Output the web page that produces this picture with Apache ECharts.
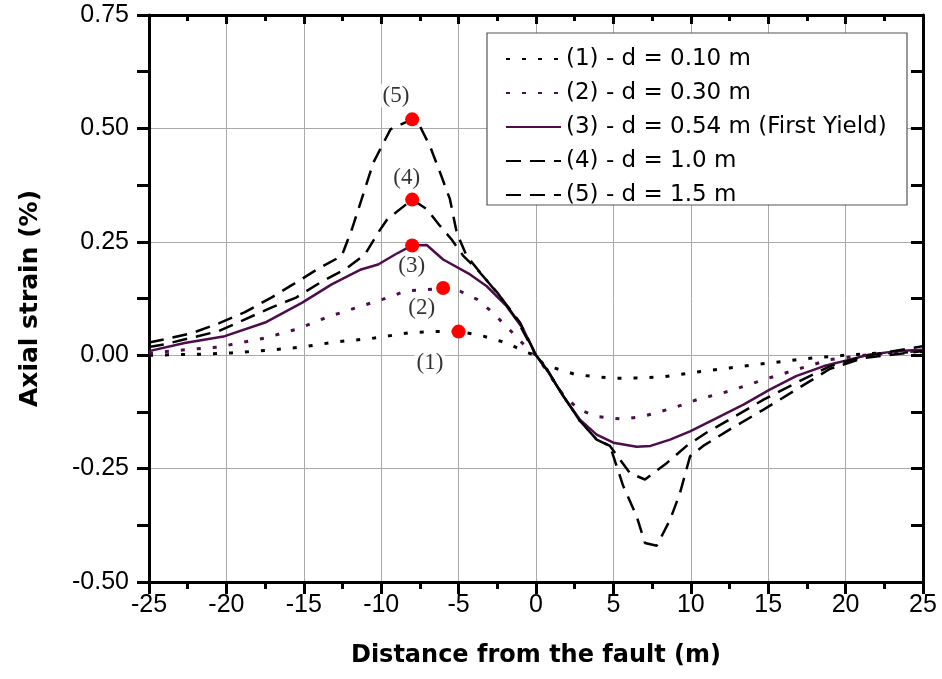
<!DOCTYPE html>
<html>
<head>
<meta charset="utf-8">
<script src="https://cdn.jsdelivr.net/npm/echarts@6/dist/echarts.min.js"></script>
<style>
  html, body { margin: 0; padding: 0; background: #fff; }
  #chart { width: 942px; height: 679px; }
</style>
</head>
<body>
<div id="chart"></div>
<script>
// distance from the fault (m) and axial strain (%) for each case
const x1 = [-25, -21.8, -19.7, -17.3, -15.1, -13, -10.6, -8.1, -6.5, -5, -3.4, -1.9, -0.6, 0, 0.5, 2.6, 5, 6.5, 8.2, 10, 12.5, 15.1, 17.9, 20, 22.2, 25]
const y1 = [0, 0.002, 0.005, 0.011, 0.018, 0.029, 0.037, 0.05, 0.052, 0.053, 0.042, 0.027, 0.006, 0, -0.021, -0.043, -0.051, -0.05, -0.048, -0.039, -0.028, -0.017, -0.006, 0, 0.005, 0.008]

const x2 = [-25, -22.7, -20.5, -17.5, -15.4, -13.4, -11.3, -9.3, -8.4, -6, -4.9, -3.8, -2.8, -1.5, -0.5, 0, 1.8, 2.8, 3.9, 5.6, 6.9, 8.9, 10.4, 12.5, 14.7, 16.8, 19, 21.5, 25]
const y2 = [0.004, 0.012, 0.018, 0.038, 0.058, 0.085, 0.108, 0.13, 0.142, 0.147, 0.141, 0.123, 0.094, 0.049, 0.013, 0, -0.09, -0.12, -0.135, -0.141, -0.135, -0.116, -0.098, -0.079, -0.054, -0.032, -0.0095, 0.001, 0.01]

const x3 = [-25, -22.7, -20.1, -17.5, -15.1, -13.2, -11.3, -10.2, -9.1, -8, -7.06, -6, -4.26, -3.18, -1.9, -0.82, 0, 0.7, 1.76, 2.84, 3.92, 5, 6.5, 7.4, 8.66, 9.95, 11.7, 13.4, 15.1, 16.8, 18.6, 20, 21.5, 23.3, 25]
const y3 = [0.009, 0.027, 0.042, 0.072, 0.116, 0.156, 0.189, 0.2, 0.222, 0.242, 0.243, 0.211, 0.178, 0.152, 0.108, 0.057, 0, -0.032, -0.09, -0.142, -0.175, -0.193, -0.202, -0.2, -0.186, -0.168, -0.138, -0.109, -0.076, -0.046, -0.024, -0.012, 0.001, 0.009, 0.012]

const x4 = [-25, -24, -22.2, -20.5, -18.8, -17.1, -15.5, -13.8, -12.3, -11.05, -10.2, -9.6, -8, -7.06, -6.2, -5.45, -4.7, -3.8, -2.5, -1.25, 0, 0.7, 1.76, 2.84, 3.92, 4.78, 6.07, 7.04, 8.44, 9.73, 11, 12.5, 14.7, 16.8, 19, 21.2, 25]
const y4 = [0.018, 0.024, 0.039, 0.053, 0.079, 0.105, 0.127, 0.163, 0.19, 0.222, 0.27, 0.3, 0.343, 0.322, 0.285, 0.255, 0.219, 0.189, 0.138, 0.079, 0, -0.03, -0.09, -0.145, -0.186, -0.2, -0.26, -0.274, -0.238, -0.2, -0.171, -0.142, -0.098, -0.061, -0.024, -0.002, 0.02]

const x5 = [-25, -24, -22.2, -20.5, -18.8, -17.1, -15.7, -14.1, -12.55, -11.9, -10.5, -9.4, -8, -7.5, -6.85, -6.2, -5.56, -5.12, -4.48, -3.6, -2.33, -1.03, 0, 0.7, 1.76, 2.84, 3.92, 4.78, 5.64, 6.5, 7.04, 7.8, 8.66, 9.3, 9.95, 10.8, 12.5, 14.7, 16.8, 19, 21.2, 25]
const y5 = [0.028, 0.035, 0.049, 0.07, 0.095, 0.127, 0.156, 0.19, 0.219, 0.277, 0.425, 0.498, 0.52, 0.505, 0.461, 0.403, 0.344, 0.27, 0.219, 0.182, 0.13, 0.072, 0, -0.032, -0.09, -0.145, -0.186, -0.2, -0.289, -0.355, -0.414, -0.42, -0.363, -0.304, -0.223, -0.2, -0.164, -0.12, -0.076, -0.03, -0.006, 0.009]

const seriesNames = ['(1) - d = 0.10 m', '(2) - d = 0.30 m', '(3) - d = 0.54 m (First Yield)', '(4) - d = 1.0 m', '(5) - d = 1.5 m']

// red markers (peak points) and their tags
const peakX = [-8, -8, -8, -6, -5]
const peakY = [0.52, 0.343, 0.242, 0.148, 0.052]
const tagText = ['(5)', '(4)', '(3)', '(2)', '(1)']
const tagX = [-9.05, -8.35, -8.03, -7.38, -6.85]
const tagY = [0.572, 0.39, 0.196, 0.105, -0.016]

const PURPLE = '#4d0d4d'
const pairs = (xs, ys) => xs.map((x, i) => [x, ys[i]])

const chart = echarts.init(document.getElementById('chart'))

const lineSeries = (name, xs, ys, color, type, width) => ({
  name,
  type: 'line',
  data: pairs(xs, ys),
  symbol: 'none',
  smooth: false,
  lineStyle: { color, width, type },
  itemStyle: { color },
  z: 3
})

const tickFont = { fontFamily: 'Liberation Sans, Arial', fontSize: 25, color: '#000' }
const gridLine = { show: true, lineStyle: { color: '#aaa', width: 1 } }
const frameLine = { onZero: false, lineStyle: { color: '#000', width: 3 } }

const option = {
  animation: false,
  backgroundColor: '#fff',
  grid: { left: 149, right: 19, top: 15, bottom: 97 },
  legend: {
    left: 487,
    top: 33,
    orient: 'vertical',
    padding: [14, 12, 2, 18],
    itemWidth: 55,
    itemHeight: 14,
    itemGap: 10,
    z: 100,
    itemStyle: { opacity: 0 },
    data: seriesNames,
    textStyle: { fontFamily: 'DejaVu Sans', fontSize: 23, lineHeight: 24, color: '#000' }
  },
  graphic: [{
    type: 'rect',
    shape: { x: 487, y: 33, width: 420, height: 172 },
    style: { fill: '#fff', stroke: '#555', lineWidth: 1.2 },
    z: 50
  }],
  xAxis: [
    {
      type: 'value', min: -25, max: 25, interval: 5, position: 'bottom',
      name: 'Distance from the fault (m)', nameLocation: 'middle', nameGap: 62,
      nameTextStyle: { fontFamily: 'DejaVu Sans', fontWeight: 'bold', fontSize: 24, color: '#000' },
      axisLine: frameLine,
      axisTick: { inside: false, length: 12, lineStyle: { color: '#000', width: 3 } },
      minorTick: { show: true, splitNumber: 2, length: 7, lineStyle: { color: '#000', width: 3 } },
      axisLabel: Object.assign({ margin: 11 }, tickFont),
      splitLine: gridLine
    },
    {
      type: 'value', min: -25, max: 25, interval: 5, position: 'top',
      axisLine: frameLine,
      axisTick: { inside: true, length: 9, lineStyle: { color: '#000', width: 3 } },
      minorTick: { show: true, splitNumber: 2, length: 6, lineStyle: { color: '#000', width: 3 } },
      axisLabel: { show: false },
      splitLine: { show: false }
    }
  ],
  yAxis: [
    {
      type: 'value', min: -0.5, max: 0.75, interval: 0.25, position: 'left',
      name: 'Axial strain (%)', nameLocation: 'middle', nameGap: 106,
      nameTextStyle: { fontFamily: 'DejaVu Sans', fontWeight: 'bold', fontSize: 25, color: '#000' },
      axisLine: Object.assign({ show: true }, frameLine),
      axisTick: { show: true, inside: false, length: 12, lineStyle: { color: '#000', width: 3 } },
      minorTick: { show: true, splitNumber: 2, length: 12, lineStyle: { color: '#000', width: 3 } },
      axisLabel: Object.assign({ margin: 20, formatter: v => v.toFixed(2) }, tickFont),
      splitLine: gridLine
    },
    {
      type: 'value', min: -0.5, max: 0.75, interval: 0.25, position: 'right',
      axisLine: Object.assign({ show: true }, frameLine),
      axisTick: { show: true, inside: true, length: 12, lineStyle: { color: '#000', width: 3 } },
      minorTick: { show: true, splitNumber: 2, length: 12, lineStyle: { color: '#000', width: 3 } },
      axisLabel: { show: false },
      splitLine: { show: false }
    }
  ],
  series: [
    lineSeries(seriesNames[0], x1, y1, '#000', [4, 12], 3),
    lineSeries(seriesNames[1], x2, y2, PURPLE, [4, 12], 3),
    lineSeries(seriesNames[2], x3, y3, PURPLE, 'solid', 2.5),
    lineSeries(seriesNames[3], x4, y4, '#000', [15, 9], 2.5),
    lineSeries(seriesNames[4], x5, y5, '#000', [15, 9], 2.5),
    {
      name: 'peaks',
      type: 'scatter',
      data: pairs(peakX, peakY),
      symbol: 'circle',
      symbolSize: 14,
      itemStyle: { color: '#ff0000', opacity: 1 },
      z: 6
    },
    {
      name: 'tags',
      type: 'scatter',
      data: tagText.map((t, i) => ({ name: t, value: [tagX[i], tagY[i]] })),
      symbolSize: 0,
      label: {
        show: true,
        position: 'inside',
        formatter: p => p.name,
        fontFamily: 'Liberation Serif, Times New Roman',
        fontSize: 23,
        color: '#000',
        backgroundColor: '#fff',
        padding: [0, 2]
      },
      z: 5
    }
  ]
}

chart.setOption(option)
</script>
</body>
</html>
